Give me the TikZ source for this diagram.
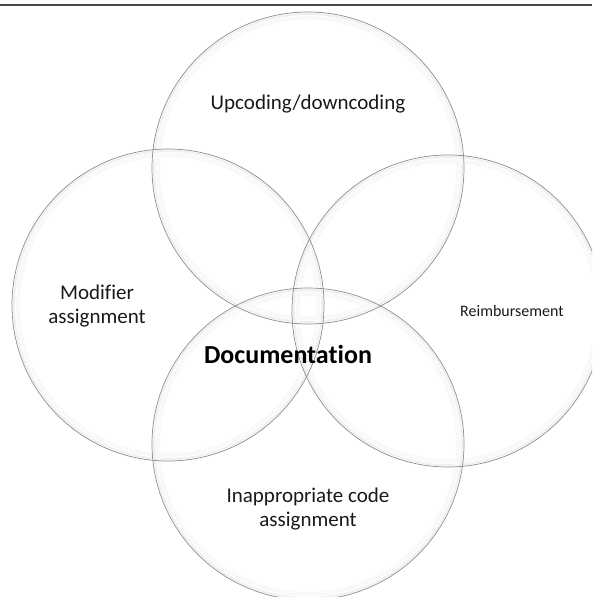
\documentclass[tikz,border=0pt]{standalone}
\usepackage{fontspec}
\setmainfont{Carlito}[Ligatures=NoCommon]
\begin{document}
\begin{tikzpicture}[x=1pt,y=-1pt,
  ring/.style={circle, draw=black!45, line width=0.7pt, minimum size=312pt, inner sep=0pt},
  glowa/.style={circle, draw=black!6, line width=2pt, minimum size=308pt, inner sep=0pt},
  glowb/.style={circle, draw=black!2.5, line width=4pt, minimum size=300pt, inner sep=0pt},
  lbl/.style={font=\fontsize{21}{24}\selectfont, align=center, text=black!90},
  small/.style={font=\fontsize{16}{19}\selectfont, align=center, text=black!90},
  big/.style={font=\fontsize{26}{30}\selectfont\bfseries, align=center, text=black},
  rule/.style={line width=2pt, draw=black!72}
]
\useasboundingbox (0,0) rectangle (592,597);
\clip (0,0) rectangle (592,597);
\coordinate (tl) at (0,5);
\coordinate (tr) at (592,5);
\draw[rule] (tl) -- (tr);
% soft inner glow
\foreach \n/\p in {T/{(308,168)}, L/{(168,305)}, R/{(448,311)}, B/{(308,444)}}{
  \node[glowb] (gb\n) at \p {};
  \node[glowa] (ga\n) at \p {};
}
% circles
\node[ring] (T) at (308,168) {};
\node[ring] (L) at (168,305) {};
\node[ring] (R) at (448,311) {};
\node[ring] (B) at (308,444) {};
% labels
\node[lbl] (tT) at (308,104) {Upcoding/downcoding};
\node[lbl] (tL) at (97,306) {Modifier\\assignment};
\node[small] (tR) at (512,311) {Reimbursement};
\node[lbl] (tB) at (308,509) {Inappropriate code\\assignment};
\node[big] (tC) at (288,354) {Documentation};
\end{tikzpicture}
\end{document}
